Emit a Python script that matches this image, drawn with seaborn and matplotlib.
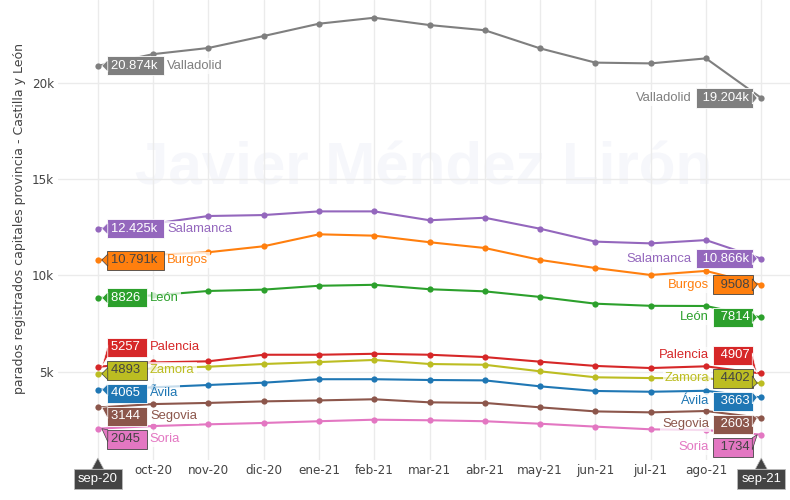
import numpy as np
import pandas as pd
import matplotlib
matplotlib.use("Agg")
import matplotlib.pyplot as plt
from matplotlib.patches import Polygon
from matplotlib.transforms import IdentityTransform
import seaborn as sns

# ================= datos =================
MESES = ["sep-20", "oct-20", "nov-20", "dic-20", "ene-21", "feb-21", "mar-21",
         "abr-21", "may-21", "jun-21", "jul-21", "ago-21", "sep-21"]

PROVINCIAS = ["Ávila", "Burgos", "León", "Palencia", "Salamanca",
              "Segovia", "Soria", "Valladolid", "Zamora"]

avila = [4065, 4190, 4310, 4430, 4610, 4610, 4570, 4550, 4240, 4000, 3960, 4010, 3663]
burgos = [10791, 11060, 11200, 11510, 12130, 12060, 11720, 11420, 10800, 10380, 10020, 10230, 9508]
leon = [8826, 8960, 9190, 9260, 9460, 9510, 9280, 9170, 8880, 8530, 8420, 8410, 7814]
palencia = [5257, 5480, 5540, 5880, 5880, 5930, 5880, 5760, 5520, 5300, 5190, 5280, 4907]
salamanca = [12425, 12680, 13080, 13130, 13320, 13320, 12860, 12990, 12420, 11750, 11660, 11830, 10866]
segovia = [3144, 3320, 3380, 3460, 3510, 3570, 3410, 3380, 3150, 2940, 2890, 2960, 2603]
soria = [2045, 2180, 2270, 2340, 2430, 2510, 2480, 2430, 2300, 2150, 2010, 1970, 1734]
valladolid = [20874, 21480, 21800, 22420, 23060, 23370, 22990, 22720, 21780, 21040, 21000, 21260, 19204]
zamora = [4893, 5180, 5260, 5400, 5500, 5610, 5400, 5360, 5020, 4710, 4670, 4660, 4402]

SERIES = [avila, burgos, leon, palencia, salamanca, segovia, soria, valladolid, zamora]
COLORES = ["#1f77b4", "#ff7f0e", "#2ca02c", "#d62728", "#9467bd",
           "#8c564b", "#e377c2", "#7f7f7f", "#bcbd22"]
Y_TICKS = [5000, 10000, 15000, 20000]
Y_TICK_LABELS = ["5k", "10k", "15k", "20k"]
Y_TITLE = "parados registrados capitales provincia - Castilla y León"
MARCA = "Javier Méndez Lirón"

# ================= estilo =================
sns.set_theme(style="whitegrid")
plt.rcParams['font.family'] = ['DejaVu Sans']
GRIS = "#444444"
PX = 0.72  # pt por pixel a 100 dpi
FUENTE_HOVER = ["Liberation Sans", "DejaVu Sans"]

paleta = dict(zip(PROVINCIAS, COLORES))

df = pd.DataFrame({
    "provincia": np.repeat(PROVINCIAS, len(MESES)),
    "idx": np.tile(np.arange(len(MESES)), len(PROVINCIAS)),
    "parados": np.concatenate(SERIES),
})


def fmt(v):
    return f"{v / 1000:.3f}k" if v >= 10000 else f"{v:.0f}"


def color_texto(hexc):
    r, g, b = [int(hexc[i:i + 2], 16) for i in (1, 3, 5)]
    return GRIS if (r * 299 + g * 587 + b * 114) / 1000 > 128 else "white"


def repartir(ys, gap=23):
    """agrupa etiquetas solapadas y las centra en la media (como plotly)"""
    orden = list(np.argsort(ys)[::-1])
    grupos = [[i] for i in orden]

    def posiciones(g):
        c = np.mean([ys[i] for i in g])
        n = len(g)
        return [c + ((n - 1) / 2 - k) * gap for k in range(n)]

    cambiado = True
    while cambiado:
        cambiado = False
        for j in range(len(grupos) - 1):
            a, b = posiciones(grupos[j]), posiciones(grupos[j + 1])
            if a[-1] - b[0] < gap:
                grupos[j] = grupos[j] + grupos[j + 1]
                del grupos[j + 1]
                cambiado = True
                break
    out = {}
    for g in grupos:
        for i, p in zip(g, posiciones(g)):
            out[i] = p
    return out


def puntero(fig, tip, edge_x, yc, fc, ec, half=6):
    # triangulo en pixeles de figura (flecha de la etiqueta)
    poly = Polygon([tip, (edge_x, yc - half), (edge_x, yc + half)], closed=True,
                   transform=IdentityTransform(), fc=fc, ec=ec, lw=0.5, zorder=6)
    fig.add_artist(poly)


fig = plt.figure(figsize=(7.9, 5), dpi=100)
fig.patch.set_facecolor("white")
ax = fig.add_axes([58 / 790, 40 / 500, 732 / 790, 460 / 500])
ax.set_facecolor("white")

sns.lineplot(data=df, x="idx", y="parados", hue="provincia", hue_order=PROVINCIAS,
             palette=paleta, marker="o", markersize=4.5, markeredgewidth=0,
             linewidth=1.5, legend=False, ax=ax, zorder=3)

ax.set_xlim(-0.72, 12.52)
ax.set_ylim(418, 24290)

ax.grid(True, color="#ebebeb", linewidth=1)
for s in ax.spines.values():
    s.set_visible(False)

ax.set_xticks(range(len(MESES)))
ax.set_xticklabels(["" if i in (0, len(MESES) - 1) else m for i, m in enumerate(MESES)])
ax.set_yticks(Y_TICKS)
ax.set_yticklabels(Y_TICK_LABELS)
ax.tick_params(axis="both", length=0, labelsize=12 * PX, labelcolor=GRIS)
ax.tick_params(axis="x", pad=3)
ax.tick_params(axis="y", pad=3)
ax.set_xlabel("")
ax.set_ylabel(Y_TITLE, fontsize=12.5 * PX, color=GRIS)
ax.yaxis.set_label_coords(-0.044, 0.525)

# marca de agua (por debajo de la rejilla)
ax.text(0.5, 0.598, MARCA, transform=ax.transAxes, ha="center", va="baseline",
        fontsize=60 * PX, fontweight="bold", family=FUENTE_HOVER,
        color="#f6f7fb", zorder=0.1)

# ================= etiquetas tipo hover =================
fig.canvas.draw()
renderer = fig.canvas.get_renderer()
cajas = []
for col in (0, len(MESES) - 1):
    izq = col == 0
    vals = [serie[col] for serie in SERIES]
    pts = [ax.transData.transform((col, v)) for v in vals]
    ys = [p[1] for p in pts]
    pos = repartir(ys)
    for i, prov in enumerate(PROVINCIAS):
        c = paleta[prov]
        tc = color_texto(c)
        txt = fmt(vals[i]) + " " if izq else " " + fmt(vals[i])
        ann = ax.annotate(
            txt, xy=(col, vals[i]),
            xytext=(13 if izq else -12, pos[i] - ys[i]), textcoords="offset pixels",
            ha="left" if izq else "right", va="center",
            fontsize=13 * PX, family=FUENTE_HOVER, color=tc,
            bbox=dict(boxstyle="square,pad=0.27", fc=c, ec=tc, lw=0.6),
            zorder=6, annotation_clip=False)
        cajas.append((ann, prov, izq, pos[i], pts[i], c, tc))

fig.canvas.draw()
for ann, prov, izq, y, pt, c, tc in cajas:
    ext = ann.get_bbox_patch().get_window_extent(renderer)
    x = ext.x1 + 3 if izq else ext.x0 - 4
    ax.annotate(prov, xy=(x, y), xycoords="figure pixels",
                ha="left" if izq else "right", va="center",
                fontsize=13 * PX, family=FUENTE_HOVER, color=paleta[prov],
                bbox=dict(boxstyle="square,pad=0.15", fc="white", ec="none", alpha=0.75),
                zorder=5, annotation_clip=False)
    yc = float(np.clip(pt[1], ext.y0 + 6, ext.y1 - 6))
    if izq:
        puntero(fig, (pt[0] + 4, pt[1]), ext.x0 + 0.5, yc, c, tc)
    else:
        puntero(fig, (pt[0] - 4, pt[1]), ext.x1 - 0.5, yc, c, tc)

# etiquetas del eje x (spike)
base = ax.transAxes.transform((0, 0))[1]
for i in (0, len(MESES) - 1):
    ann = ax.annotate(MESES[i], xy=(i, 0), xycoords=("data", "axes fraction"),
                      xytext=(0, -19), textcoords="offset pixels", ha="center", va="center",
                      color="white", fontsize=13 * PX, family=FUENTE_HOVER,
                      bbox=dict(boxstyle="square,pad=0.33", fc=GRIS, ec="#bbbbbb", lw=0.6),
                      zorder=6, annotation_clip=False)
    fig.canvas.draw()
    ext = ann.get_bbox_patch().get_window_extent(renderer)
    sx = ax.transData.transform((i, 0))[0]
    poly = Polygon([(sx, base + 2), (sx - 6, ext.y1 - 0.5), (sx + 6, ext.y1 - 0.5)],
                   closed=True, transform=IdentityTransform(), fc=GRIS, ec="#bbbbbb",
                   lw=0.5, zorder=6)
    fig.add_artist(poly)

plt.savefig("out.png", dpi=100)
plt.close()
